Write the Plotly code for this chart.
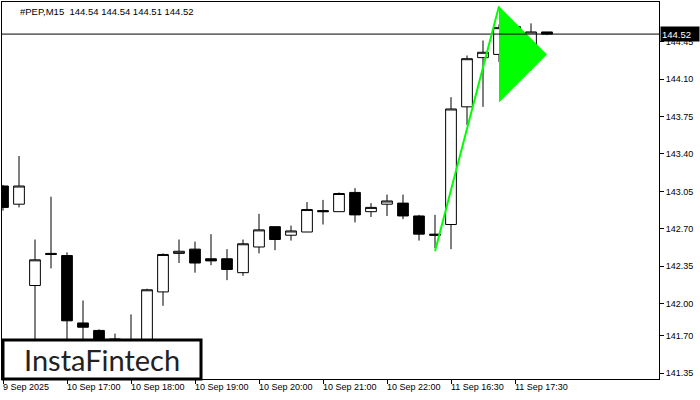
import plotly.graph_objects as go

# ---------------- data ----------------
bars = list(range(35))
opens = [143.10, 142.93, 142.17, 142.47, 142.45, 141.82, 141.75, 141.67, 141.50, 141.55,
         142.11, 142.47, 142.51, 142.42, 142.42, 142.29, 142.53, 142.72, 142.64, 142.67,
         142.87, 142.86, 143.04, 142.86, 142.93, 142.94, 142.82, 142.65, 142.74, 143.84,
         144.30, 144.33, 144.59, 144.38, 144.54]
highs = [143.11, 143.38, 142.60, 143.00, 142.48, 142.03, 141.76, 141.72, 141.90, 142.14,
         142.47, 142.60, 142.58, 142.65, 142.51, 142.60, 142.84, 142.72, 142.73, 142.95,
         142.97, 143.04, 143.08, 142.94, 143.02, 143.02, 142.83, 142.83, 143.93, 144.32,
         144.46, 144.61, 144.60, 144.62, 144.54]
lows = [142.87, 142.90, 141.57, 142.33, 141.61, 141.57, 141.47, 141.55, 141.45, 141.50,
        141.98, 142.38, 142.29, 142.36, 142.22, 142.26, 142.47, 142.50, 142.59, 142.67,
        142.74, 142.86, 142.76, 142.81, 142.82, 142.79, 142.59, 142.52, 142.51, 143.67,
        143.84, 144.26, 144.06, 144.18, 144.51]
closes = [142.90, 143.10, 142.41, 142.46, 141.84, 141.78, 141.57, 141.64, 141.60, 142.13,
          142.46, 142.49, 142.38, 142.40, 142.32, 142.56, 142.69, 142.60, 142.68, 142.88,
          142.86, 143.03, 142.83, 142.90, 142.96, 142.82, 142.65, 142.64, 143.82, 144.29,
          144.35, 144.58, 144.36, 144.54, 144.52]

# x tick labels (bar index -> text)
xtick_bars = [0, 4, 8, 12, 16, 20, 24, 28, 32]
xtick_labels = ["9 Sep 2025", "10 Sep 17:00", "10 Sep 18:00", "10 Sep 19:00", "10 Sep 20:00",
                "10 Sep 21:00", "10 Sep 22:00", "11 Sep 16:30", "11 Sep 17:30"]
ytick_vals = [141.35, 141.70, 142.00, 142.35, 142.70, 143.05, 143.40, 143.75, 144.10, 144.45]

# bullish pennant pattern
pole_x = [27, 31]
pole_y = [142.49, 144.78]
pennant_x = [31, 31, 34]
pennant_y = [144.78, 143.88, 144.33]

symbol = "#PEP,M15"
x_range = [-0.0625, 41.0]
y_range = [141.296, 144.82]

# ---------------- figure ----------------
fig = go.Figure()

fig.add_trace(go.Scatter(x=pennant_x, y=pennant_y, mode="lines", fill="toself",
                         fillcolor="#00ff00", line=dict(width=0, color="#00ff00"),
                         hoverinfo="skip", showlegend=False))

fig.add_trace(go.Scatter(x=x_range, y=[closes[-1], closes[-1]], mode="lines",
                         line=dict(color="black", width=1), hoverinfo="skip", showlegend=False))

fig.add_trace(go.Candlestick(
    x=bars, open=opens, high=highs, low=lows, close=closes,
    increasing=dict(line=dict(color="black", width=1), fillcolor="white"),
    decreasing=dict(line=dict(color="black", width=1), fillcolor="black"),
    whiskerwidth=0, showlegend=False))

fig.add_trace(go.Scatter(x=pole_x, y=pole_y, mode="lines",
                         line=dict(color="#00ff00", width=2), hoverinfo="skip", showlegend=False))

tick_font = dict(family="Liberation Sans", size=9, color="black")

annotations = []
for b, t in zip(xtick_bars, xtick_labels):
    annotations.append(dict(x=b, y=0, xref="x", yref="paper", text=t, showarrow=False,
                            xanchor="left", yanchor="top", yshift=-1, xshift=-2,
                            font=tick_font))

annotations.append(dict(x=0.0244, y=0.976, xref="paper", yref="paper",
                        text=f"{symbol}  {opens[-1]:.2f} {highs[-1]:.2f} {lows[-1]:.2f} {closes[-1]:.2f}",
                        showarrow=False, xanchor="left", yanchor="middle",
                        font=dict(family="Liberation Sans", size=9.5, color="black")))

annotations.append(dict(x=1, y=closes[-1], xref="paper", yref="y", text=f"{closes[-1]:.2f}",
                        showarrow=False, xanchor="left", yanchor="middle", xshift=1,
                        bgcolor="black", width=36, height=12, align="left", borderpad=1,
                        font=dict(family="Liberation Sans", size=9.5, color="white")))

annotations.append(dict(x=0.1529, y=0.0517, xref="paper", yref="paper", text="InstaFintech",
                        showarrow=False, xanchor="center", yanchor="middle",
                        font=dict(family="Lato", size=29, color="#222222")))

fig.update_layout(
    width=700, height=400,
    margin=dict(l=2, r=41, t=2, b=21),
    paper_bgcolor="white", plot_bgcolor="white",
    showlegend=False,
    boxgap=0.33, boxgroupgap=0,
    xaxis=dict(range=x_range, showgrid=False, zeroline=False, rangeslider=dict(visible=False),
               tickvals=xtick_bars, showticklabels=False, ticks="outside", ticklen=4,
               tickcolor="black", showline=True, linecolor="black", linewidth=1, mirror=True),
    yaxis=dict(range=y_range, side="right", showgrid=False, zeroline=False,
               tickvals=ytick_vals, ticktext=[f"{v:.2f}" for v in ytick_vals],
               ticks="outside", ticklen=4, tickcolor="black", tickfont=tick_font,
               showline=True, linecolor="black", linewidth=1, mirror=True),
    shapes=[dict(type="rect", xref="paper", yref="paper", x0=0.0015, x1=0.3029, y0=0.0, y1=0.1034,
                 fillcolor="white", line=dict(color="black", width=3), layer="above")],
    annotations=annotations,
    hovermode=False,
)

fig.write_html("out.html", config={"displayModeBar": False, "staticPlot": True},
               post_script="document.body.style.margin='0';document.body.style.padding='0';")
